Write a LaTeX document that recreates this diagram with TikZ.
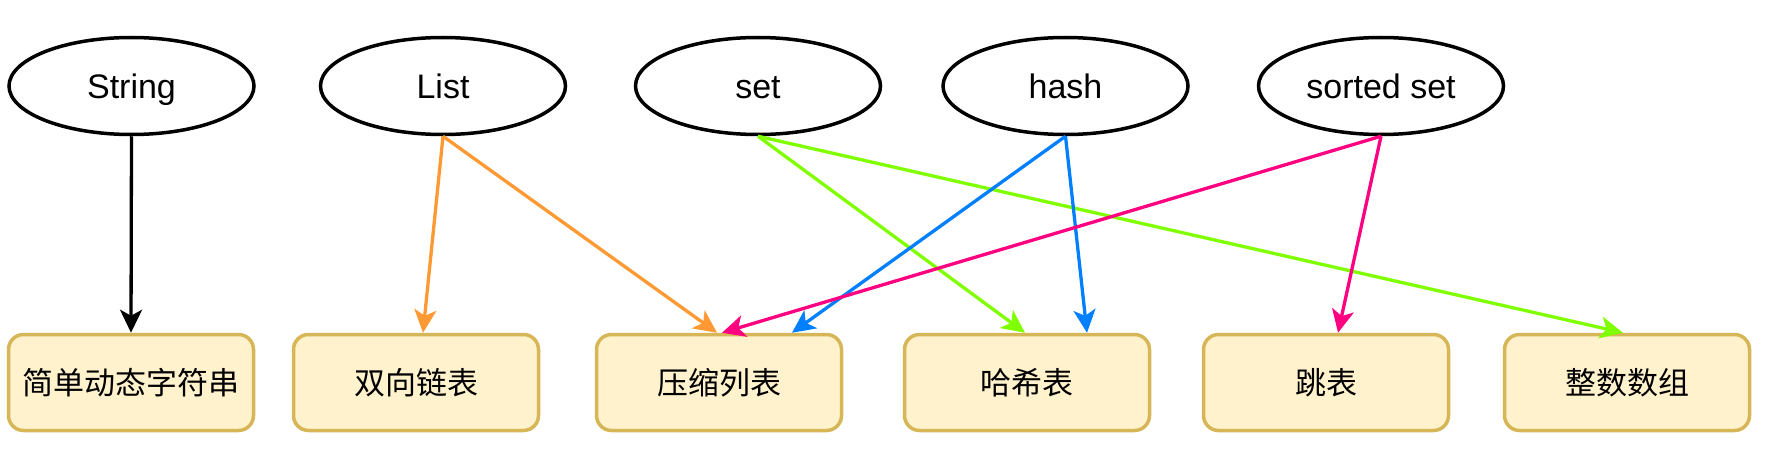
\documentclass[tikz,border=0pt]{standalone}
\usepackage{fontspec}
\setmainfont{Liberation Sans}
\newfontfamily\cjk{Noto Sans CJK SC}
\usetikzlibrary{arrows.meta,shapes.geometric}
\definecolor{cOrange}{HTML}{FF9933}
\definecolor{cGreen}{HTML}{80FF00}
\definecolor{cBlue}{HTML}{007FFF}
\definecolor{cPink}{HTML}{FF0080}
\definecolor{boxFill}{HTML}{FFF2CC}
\definecolor{boxBorder}{HTML}{D6B656}
\begin{document}
\begin{tikzpicture}[x=1pt,y=-1pt,
 typenode/.style={draw=black, line width=3.5pt, ellipse, minimum width=245pt, minimum height=97pt, inner sep=0pt, font=\fontsize{34}{40}\selectfont, text height=24.5pt, text depth=0pt},
 implbox/.style={draw=boxBorder, fill=boxFill, line width=3.5pt, rounded corners=15pt, minimum width=245pt, minimum height=96pt, inner sep=0pt, font=\cjk\fontsize{31}{36}\selectfont, text height=23.5pt, text depth=0pt},
 link/.style={line width=3.3pt, -{Stealth[length=23pt,width=22pt,inset=6pt]}}
]
\useasboundingbox (0,0) rectangle (1766,460);

\node[typenode] (str) at (131.5,86) {String};
\node[typenode] (lst) at (443,86) {List};
\node[typenode] (set) at (758,86) {set};
\node[typenode] (hsh) at (1065.5,86) {hash};
\node[typenode] (zst) at (1381,86) {sorted set};

\node[implbox] (b1) at (131,382.5) {简单动态字符串};
\node[implbox] (b2) at (416,382.5) {双向链表};
\node[implbox] (b3) at (719,382.5) {压缩列表};
\node[implbox] (b4) at (1027,382.5) {哈希表};
\node[implbox] (b5) at (1326,382.5) {跳表};
\node[implbox] (b6) at (1627,382.5) {整数数组};

\draw[link, black] (str.south) -- (b1.north);
\draw[link, cOrange] (lst.south) -- ([xshift=7pt]b2.north);
\draw[link, cOrange] (lst.south) -- ([xshift=-2pt]b3.north);
\draw[link, cGreen] (set.south) -- ([xshift=-2pt]b4.north);
\draw[link, cGreen] (set.south) -- ([xshift=-4pt]b6.north);
\draw[link, cBlue] (hsh.south) -- ([xshift=73pt]b3.north);
\draw[link, cBlue] (hsh.south) -- ([xshift=60pt]b4.north);
\draw[link, cPink] (zst.south) -- ([xshift=3pt]b3.north);
\draw[link, cPink] (zst.south) -- ([xshift=12pt]b5.north);
\end{tikzpicture}
\end{document}
